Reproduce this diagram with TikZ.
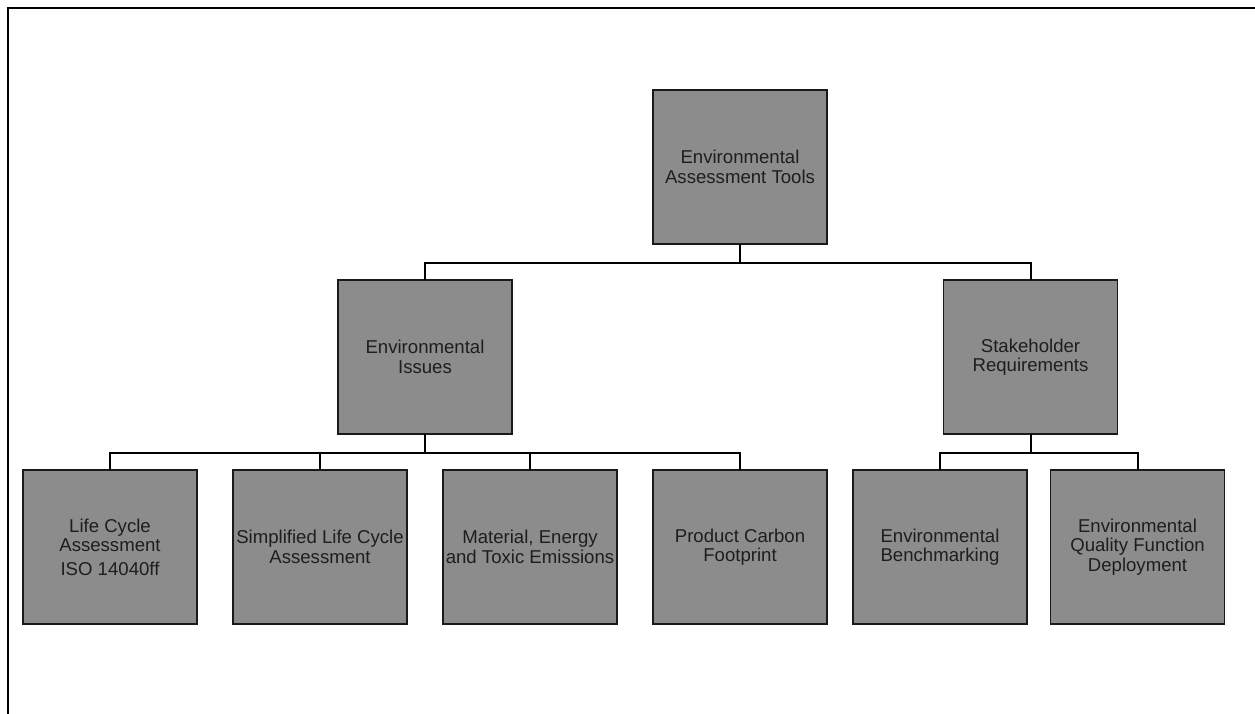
\documentclass[tikz,border=0pt]{standalone}
\usepackage{fontspec}
\setmainfont{Liberation Sans}
\definecolor{boxfill}{HTML}{8C8C8C}
\definecolor{boxline}{HTML}{1A1A1A}
\definecolor{boxtext}{HTML}{1E1E1E}
\begin{document}
\begin{tikzpicture}[x=1pt,y=-1pt,
  box/.style={draw=boxline, line width=1.4pt, fill=boxfill, text=boxtext,
    minimum width=174pt, minimum height=154pt, inner sep=0pt, align=center,
    font=\fontsize{18.6}{19.6}\selectfont},
  link/.style={draw=black, line width=2pt, line cap=rect, line join=miter}]
\useasboundingbox (0,0) rectangle (1255,713);
% outer frame, running off the right and lower edges
\begin{scope}
\clip (0,0) rectangle (1255,713);
\draw[line width=2.2pt] (8,740) -- (8,8) -- (1280,8);
\end{scope}

% tree of boxes
\node[box] (eat) at (740,167) {Environmental\\Assessment Tools};
\node[box] (ei)  at (425,357) {Environmental\\Issues};
\node[box] (sr)  at (1030.5,357) {Stakeholder\\Requirements};

\node[box] (lca)  at (110,547) {Life Cycle\\Assessment\\[4pt]ISO 14040ff};
\node[box] (slca) at (320,547) {Simplified Life Cycle\\Assessment};
\node[box] (mete) at (530,547) {Material, Energy\\and Toxic Emissions};
\node[box] (pcf)  at (740,547) {Product Carbon\\Footprint};
\node[box] (eb)   at (940,547) {Environmental\\Benchmarking};
\node[box] (eqfd) at (1137.5,547) {Environmental\\Quality Function\\Deployment};

% connectors
\draw[link] (eat.south) -- ++(0,18) -| (ei.north);
\draw[link] (eat.south) -- ++(0,18) -| (sr.north);

\draw[link] (ei.south) -- ++(0,18) -| (lca.north);
\draw[link] (ei.south) -- ++(0,18) -| (slca.north);
\draw[link] (ei.south) -- ++(0,18) -| (mete.north);
\draw[link] (ei.south) -- ++(0,18) -| (pcf.north);

\draw[link] (sr.south) -- ++(0,18) -| (eb.north);
\draw[link] (sr.south) -- ++(0,18) -| (eqfd.north);
\end{tikzpicture}
\end{document}
